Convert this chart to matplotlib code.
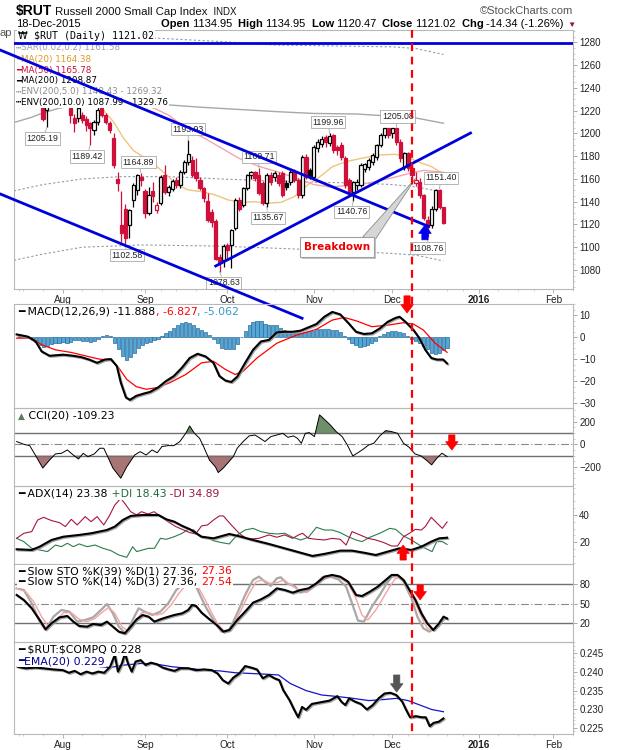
import numpy as np
import pandas as pd
import matplotlib
matplotlib.use("Agg")
import matplotlib.pyplot as plt
import matplotlib.patheffects as pe
from matplotlib.patches import Rectangle, Polygon
from matplotlib.lines import Line2D
from matplotlib.transforms import IdentityTransform, blended_transform_factory
from matplotlib.ticker import MultipleLocator

plt.rcParams['font.family'] = ['Liberation Sans', 'DejaVu Sans']
SANS = ['Liberation Sans', 'DejaVu Sans']
VERD = ['DejaVu Sans']
W, H = 620, 750
LEG = 7.8   # taille des légendes des panneaux

###############
#### data  ####
###############
# trading days, 0 = Mon 3 Aug 2015
day = np.arange(-11, 98)

opn = [1248, 1245, 1240, 1236, 1232, 1234, 1227, 1220.5, 1226, 1232,
       1235, 1231, 1229, 1222, 1213.2, 1213.2, 1216, 1213, 1208.8, 1203,
       1210.3, 1222, 1216, 1208.8, 1195.6, 1160, 1119.5, 1134, 1119.5, 1141.5,
       1150.3, 1162, 1149, 1130, 1149.4, 1132.7, 1138.5, 1163.4, 1148.8, 1151,
       1159, 1154.6, 1166.4, 1175, 1176.6, 1166.4, 1159, 1151.7, 1140.6, 1131,
       1123, 1091.7, 1088.8, 1102, 1102, 1116.6, 1141.5, 1137, 1152.3, 1163.4,
       1165.8, 1163.4, 1156, 1138.5, 1163.4, 1162, 1163.4, 1165, 1156, 1157.6,
       1166.4, 1159, 1145.9, 1179.5, 1168, 1162, 1187, 1191, 1197, 1191.2,
       1199, 1188, 1189.8, 1178, 1159, 1148.8, 1155, 1154.6, 1168.7, 1170.7,
       1175, 1179.5, 1189.8, 1198.6, 1204.4, 1200, 1204.4, 1192.7, 1170.7, 1182.5,
       1169.3, 1156, 1157.6, 1145.9, 1123.9, 1119.5, 1134, 1150.3, 1134.95]
high = [1252, 1250, 1244, 1240, 1236, 1238, 1230, 1227, 1234, 1238,
        1240, 1236, 1234, 1226, 1217, 1226, 1219, 1215, 1210, 1212,
        1223, 1225, 1218, 1211, 1200, 1166, 1149, 1138, 1134, 1156,
        1164, 1164.89, 1151, 1153, 1157, 1140, 1163, 1172, 1155, 1160,
        1162, 1168, 1177, 1193.93, 1180, 1178, 1162, 1153, 1148, 1134,
        1125, 1094, 1103, 1104, 1116, 1143, 1144, 1153, 1164, 1167,
        1167, 1169.71, 1158, 1165, 1166, 1167, 1166, 1167, 1159, 1168,
        1169, 1161, 1181, 1182, 1170, 1190, 1195, 1198, 1199, 1199.96,
        1199.5, 1190, 1192, 1180, 1161, 1158, 1160, 1174, 1174, 1178,
        1183, 1191, 1200, 1204.8, 1205, 1205, 1205.08, 1195, 1184, 1184,
        1172, 1166.4, 1161, 1147, 1127, 1136, 1150.8, 1151.4, 1134.95]
low = [1242, 1238, 1232, 1228, 1227, 1227, 1211, 1205.19, 1225, 1228,
       1229, 1227, 1226, 1209, 1201.5, 1210, 1209, 1202, 1189.42, 1199,
       1207, 1214, 1208, 1200, 1170, 1149, 1105, 1102.58, 1108, 1135,
       1146, 1154, 1125.4, 1128, 1140, 1130, 1137, 1147, 1145, 1149,
       1152, 1152, 1164, 1172, 1162, 1158, 1150, 1140, 1122, 1118,
       1089, 1078.63, 1083, 1090, 1081.5, 1115, 1132, 1135, 1150, 1160,
       1158, 1146, 1137, 1135.67, 1155, 1158, 1154, 1144, 1150, 1155,
       1157, 1143, 1143, 1160, 1160, 1160, 1184, 1188, 1188, 1189,
       1183, 1181, 1177, 1152, 1146, 1140.76, 1150, 1153, 1166, 1168,
       1172, 1177, 1188, 1196, 1196, 1196, 1190, 1175, 1168, 1167,
       1160, 1154, 1143, 1124, 1108.76, 1117, 1132, 1134, 1120.47]
close = [1245, 1240, 1236, 1232, 1229, 1230, 1213, 1225, 1232, 1235,
         1231, 1229, 1232, 1216, 1208.8, 1222, 1211.7, 1207, 1204.4, 1210.3,
         1220.5, 1216, 1210, 1203, 1172.2, 1156, 1112.2, 1108, 1132.7, 1154.6,
         1163.4, 1159, 1130, 1146, 1145.3, 1137, 1162, 1148.8, 1153, 1158,
         1154.6, 1166.4, 1175, 1181.6, 1163.4, 1160.5, 1151.7, 1143, 1123.9, 1122,
         1090, 1087.3, 1101.4, 1097.6, 1115, 1141.5, 1134, 1151.7, 1163.4, 1165.8,
         1160.5, 1147.3, 1138.5, 1163.4, 1157.6, 1164.9, 1156, 1145.9, 1153.2, 1166.4,
         1159, 1145.9, 1179.5, 1162, 1162, 1188, 1192.7, 1195, 1192, 1198,
         1185.4, 1185, 1179.5, 1154.6, 1148.8, 1157, 1157.5, 1172.2, 1173, 1176.6,
         1181, 1189.8, 1198.6, 1204.4, 1198.6, 1204.4, 1192.7, 1178, 1182.5, 1169.3,
         1163.4, 1159, 1145.9, 1125.4, 1118, 1134, 1150.3, 1135.36, 1121.02]

# price overlays (day, value)
ma200_d = [-12.4, -8, -5, -1, 4, 10, 18, 27, 35, 45, 55, 64, 75, 84, 90, 97]
ma200_v = [1209.5, 1214, 1218, 1222, 1225, 1227, 1227, 1225, 1223, 1221, 1219, 1217.5, 1217, 1215, 1213.5, 1208.9]
env5u_d = [12, 22, 46, 54, 84, 90, 97]
env5u_v = [1289, 1284, 1279.6, 1277.6, 1276, 1274.5, 1269.3]
env5l_d = [-12.4, -5, 5, 15, 27, 40, 55, 64, 75, 84, 90, 97]
env5l_v = [1149.5, 1155, 1160, 1162, 1162, 1160, 1158, 1157, 1156.5, 1155, 1153, 1148.4]
env10l_d = [-12.4, -5, 5, 20, 40, 55, 70, 84, 90, 97]
env10l_v = [1088.5, 1094, 1100, 1102, 1101, 1099, 1097, 1094.5, 1093, 1088]
ma20_d = [8, 10, 13, 15.5, 18, 20.5, 24, 27, 29, 32, 35.4, 38.8, 42.2, 45.5, 49,
          52, 55.6, 59, 62.4, 65, 68.7, 72, 76, 80.5, 84.7, 87, 90.6, 94, 97]
ma20_v = [1226, 1222, 1210, 1196, 1185, 1179.5, 1171, 1162, 1155, 1150.3, 1148.8, 1146, 1141.5, 1139.4, 1140,
          1138.6, 1139.4, 1144.4, 1154.7, 1160.5, 1170.7, 1175, 1178, 1181, 1181.6, 1180.4, 1175, 1170.7, 1164.4]
ma50_d = [18, 21, 24, 27, 32, 36, 40, 45, 50, 55, 60, 64, 68, 72, 76, 80, 84, 88, 92, 97]
ma50_v = [1229, 1225, 1221, 1216, 1203, 1196, 1188, 1178, 1171, 1166, 1160, 1155, 1153, 1154, 1155, 1158,
          1161, 1164.5, 1167.5, 1165.8]

# MACD
macd_d = [-11.7, -8.9, -6.9, -5.4, -3.4, 0.1, 2.6, 4.6, 6.6, 8.6, 10.6, 12.1, 13.6, 14.6, 15.9,
          16.9, 18.5, 20.5, 22, 24, 26, 28, 30, 32, 34, 36, 38, 39.5, 41, 42.5,
          44, 46, 48, 50, 52, 54, 56, 58, 60, 62, 64, 66, 68, 70, 72,
          74, 76, 78, 80, 82, 84, 85, 86.5, 88.5, 90, 91.5, 93, 94.4, 96, 97]
macd_v = [1.3, 0.3, -1.9, -6.4, -8.4, -7.9, -8.4, -9.0, -10.1, -11.6, -10.1, -9.9, -13.1, -20.6, -27.3,
          -28.4, -26.6, -25.5, -24.8, -22.8, -19.9, -17.6, -13.9, -9.4, -7.5, -8.7, -11.6, -17.6, -19.6, -20.3,
          -17.9, -11.6, -5.7, -1.9, -1.2, 2.2, 2.5, 2.5, 3.0, 4.5, 6.0, 9.3, 11.5, 10.4, 6.6,
          2.5, 1.5, 1.8, 4.0, 7.0, 8.8, 9.3, 7.0, 3.3, -0.4, -5.7, -9.4, -10.1, -10.1, -11.888]
sig_d = [-11.7, -7.9, -5.4, -1.9, 2.1, 5.6, 9.1, 12.1, 14.1, 16.1, 18.5, 21, 24, 27, 31, 35, 38,
         41, 43.5, 45.5, 49, 54, 59, 64, 68, 71, 74, 78, 82, 86, 88.5, 91, 94, 97]
sig_v = [-0.4, -0.4, -3.4, -5.7, -6.9, -8.4, -9.9, -10.4, -13.9, -19.1, -22.4, -23.6, -22.8, -20.6, -16.9,
         -11.6, -10.9, -14.6, -16.9, -15.4, -9.4, -2.7, 1.0, 3.6, 7.8, 9.0, 7.5, 4.8, 5.5, 6.6, 6.0,
         3.3, -2.7, -6.827]
hist = [1.2, 1.0, 0.5, -0.5, -2.0, -3.5, -4.2, -3.8, -3.0, -2.6,
        -2.4, -2.2, -2.4, -2.0, -1.4, -1.2, -1.8, -1.5, -2.0, -1.6,
        -0.8, 0.6, 1.0, 0.4, -2.5, -5.5, -8.5, -10.3, -9.0, -7.0,
        -5.0, -3.6, -2.8, -2.0, -1.4, -0.8, 0.6, 2.0, 3.0, 4.0,
        5.4, 6.5, 7.0, 6.6, 5.6, 4.2, 3.2, 2.4, 1.2, -0.6,
        -2.8, -4.8, -5.4, -5.5, -5.2, -3.2, 0.2, 3.0, 5.4, 7.0,
        7.6, 7.3, 6.0, 5.4, 5.4, 5.5, 4.2, 3.4, 3.0, 2.8,
        2.6, 2.0, 2.4, 3.0, 3.0, 3.6, 3.8, 3.8, 3.8, 3.4,
        3.2, 2.4, 0.6, -1.0, -2.4, -3.6, -4.2, -4.0, -3.4, -2.6,
        -1.6, 0.4, 1.6, 2.6, 3.0, 2.8, 2.6, 1.8, 0.4, -0.6,
        -1.6, -2.6, -3.8, -5.4, -7.0, -7.8, -7.2, -6.0, -5.062]

# CCI(20)
cci_d = [-11.7, -9.9, -8.4, -6.9, -5.1, -3.4, -1.9, -0.4, 1.1, 2.6, 3.9, 5.1, 6.3, 7.9, 9.3,
         10.3, 11.3, 12.6, 14.6, 16.1, 18.1, 19.5, 21.0, 22.5, 23.8, 25.0, 26.5, 28.0, 29.5, 31.0,
         32.0, 33.2, 34.5, 35.5, 37.0, 38.5, 39.2, 40.5, 41.5, 43.0, 44.0, 45.5, 47.0, 48.5, 49.8,
         51.0, 52.5, 54.0, 55.5, 56.8, 58.2, 59.2, 60.2, 61.2, 62.2, 63.5, 64.8, 66.0, 67.5, 69.0,
         70.5, 71.8, 73.2, 74.5, 75.8, 77.2, 78.5, 80.0, 81.5, 83.0, 84.5, 86.0, 87.4, 88.9, 90.4,
         91.9, 93.1, 94.4, 95.7, 97]
cci_v = [24, 0, -12, -100, -210, -140, -85, -80, -50, -95, -130, -80, -110, -85, -35,
         -35, -110, -210, -300, -200, -95, -65, -95, -50, -75, -20, -12, -12, 24, 97,
         162, 97, 53, -20, -140, -200, -250, -210, -170, -110, -35, 24, 74, 82, 53,
         24, 68, 82, 97, 62, 74, 53, 9, 97, 103, 68, 260, 221, 171, 112,
         68, -6, -103, -74, -44, -6, 9, 74, 121, 112, 97, 9, -26, -85, -103,
         -144, -182, -124, -79, -109.23]

# ADX(14)
adx_d = [-11.7, -7.9, -5.9, -2.9, 0.1, 4.1, 7.1, 11.1, 13.1, 15.1, 17.1, 20.1, 24.1, 26.1, 28.1,
         30.1, 32.1, 35, 38, 42, 45, 48, 52, 56, 60, 63, 66, 70, 73, 76, 79, 82, 85, 88, 90.5, 93, 95, 97]
adx_v = [14.9, 14.4, 16.8, 21.7, 24.1, 25.4, 26.6, 29, 31.5, 36.3, 39.3, 40, 40, 36.8, 35.1,
         32, 29.5, 24.1, 22.9, 26.1, 24.1, 21.7, 18.8, 15.6, 12.4, 10, 11.5, 13.9, 13.9, 12.4,
         10.7, 13.2, 15.6, 14.4, 16.8, 20.5, 22.9, 23.38]
mdi_d = [-11.7, -9.9, -7.9, -6.4, -4.9, -2.9, -0.9, 0.6, 2.1, 3.6, 5.6, 7.1, 8.6, 10.3, 11.6,
         13.1, 14.6, 15.9, 17.1, 18.6, 19.8, 21.5, 23, 24.5, 26.5, 28.5, 30.5, 32, 33.5, 35,
         36.5, 38, 39.5, 40.5, 42.5, 44.5, 46.5, 49.5, 52, 54, 56, 58, 59.5, 60.5, 62,
         64, 66, 68, 70, 71.5, 73, 75, 77, 79, 81, 83, 84.5, 86, 87.5, 89,
         90.5, 91.5, 93, 94.5, 95.8, 97]
mdi_v = [22.9, 26.6, 27.8, 36.3, 38.3, 35.9, 34.4, 31.5, 36.8, 32.7, 38.8, 35.1, 38.8, 32.7, 38.8,
         47.3, 52.2, 47.3, 42.4, 40, 42.4, 40.7, 42.4, 39.3, 35.1, 31.5, 29, 27.1, 26.1, 32,
         32.7, 36.3, 39.3, 39.3, 32.7, 26.6, 22.2, 22.9, 25.4, 23.7, 25.4, 22.9, 25.4, 26.6, 22.9,
         22.2, 21.7, 22.9, 22.2, 18, 27.8, 25.4, 22.9, 21.7, 19.8, 17.3, 17.3, 24.1, 26.6, 29.5,
         29, 31.5, 38.3, 33.9, 30.2, 34.89]
pdi_d = [-11.7, -9.9, -7.9, -5.9, -3.9, -1.9, -0.4, 1.1, 2.6, 4.1, 6.1, 8.1, 10.1, 12.1, 14.1,
         16.1, 17.6, 18.6, 20.1, 21.6, 23.1, 24.6, 26.1, 28.1, 30.1, 31.6, 33.1, 34.6, 36, 38,
         40, 42, 44, 46, 48, 50, 52, 54, 56, 58, 60, 62, 64, 66, 68,
         70, 72, 74, 75.5, 77.5, 80, 82.5, 84, 86, 88, 90, 92, 93.2, 94.4, 95.8, 97]
pdi_v = [22.9, 20.5, 15.6, 14.4, 13.2, 18, 16.8, 19.3, 16.8, 18.8, 16.8, 18, 15.6, 13.9, 10.7,
         9, 16.8, 13.2, 14.4, 15.6, 15.6, 22.9, 22.2, 24.1, 26.6, 29.5, 29, 24.1, 23.7, 21.2,
         19.8, 18.8, 25.4, 29, 30.2, 27.8, 26.6, 26.1, 26.6, 23.7, 21.7, 23.7, 31, 29, 29,
         27.1, 24.1, 21.7, 20.5, 23.7, 26.6, 30.2, 29.5, 24.6, 21.7, 18, 14.9, 13.2, 20.5, 20.5, 18.43]

# Slow stochastics
k39_d = [-11.7, -9.9, -7.9, -5.9, -4.4, -2.9, -0.9, 1.1, 2.6, 4.1, 6.1, 7.6, 9.6, 11.1, 12.6,
         14.1, 15.6, 17.1, 18.6, 20.1, 21.6, 23.1, 24.6, 26.1, 28.1, 30.1, 31.6, 32.6, 33.6, 35,
         37, 38.8, 40.5, 42, 44, 46, 48, 50, 52, 54, 56, 58, 60, 62, 64,
         66, 68, 70, 72, 74, 75.5, 77.5, 79.5, 81.5, 83, 84.5, 86, 87.5, 89, 90.5,
         92, 93.5, 95, 96.1, 97]
k39_v = [63.6, 55.9, 43.1, 25.1, 10.8, 20, 29.2, 31.3, 22.6, 15.9, 14.9, 19, 17.4, 22.6, 14.9,
         7.2, 4.6, 14.9, 26.2, 32.8, 30.3, 22.6, 26.2, 29.2, 32.8, 35.4, 40.5, 48.2, 46.7, 36.4,
         26.2, 17.4, 7.2, 9.7, 25.1, 38, 51.8, 56.9, 63.6, 73.8, 71.3, 67.2, 71.3, 73.8, 81.5,
         91.8, 94.4, 91.8, 84.1, 63.6, 62, 68.7, 76.4, 86.7, 94.4, 94.4, 86.7, 71.3, 55.9, 35.4,
         20, 9.7, 20, 30.3, 27.36]
k14_d = [-11.7, -9.9, -7.9, -5.9, -4.4, -2.4, -0.4, 1.6, 3.6, 5.6, 7.6, 9.6, 11.1, 12.6, 14.1,
         15.9, 17.6, 19.1, 20.6, 22.6, 24.6, 26.6, 28.6, 30.6, 32.1, 33.3, 34.6, 36, 38, 40,
         42, 44, 46, 48, 49.5, 51, 52.5, 54, 55, 56.5, 58.5, 60, 62, 64, 65.5,
         67.5, 69.5, 71.5, 73, 74.5, 76, 78, 80, 81.5, 83, 84.5, 86, 88, 89.5, 91,
         92.5, 94, 95.5, 97]
k14_v = [73.8, 71.3, 50.8, 22.6, 9.7, 30.3, 40.5, 38, 22.6, 25.1, 29.2, 40.5, 49.7, 35.4, 14.9,
         3.6, 25.1, 43.1, 38, 32.8, 38, 50.8, 71.3, 81.5, 84.1, 81.5, 63.6, 45.6, 25.1, 7.2,
         9.7, 35.4, 63.6, 86.7, 91.8, 84.1, 77.4, 89.2, 90.8, 81.5, 77.4, 67.2, 71.3, 81.5, 90.8,
         91.8, 87.7, 76.4, 50.8, 24.1, 22.6, 45.6, 63.6, 79, 91.8, 92.8, 84.1, 58.5, 30.3, 12.3,
         7.2, 12.3, 25.1, 27.36]
d3_d = [-11.7, -9.4, -7.4, -5.4, -3.7, -1.9, 0.1, 2.1, 4.1, 6.1, 8.1, 10.1, 11.6, 13.1, 14.9,
        16.6, 18.3, 19.9, 21.6, 23.6, 25.3, 27.3, 29.3, 31.1, 32.8, 34, 35.5, 37.2, 39, 40.8,
        42.8, 44.8, 46.8, 48.8, 50.5, 52.2, 54, 55.8, 57.5, 59.5, 61.5, 63.5, 65.5, 68, 70,
        72, 73.8, 75.5, 77, 79, 80.8, 82.5, 84, 85.5, 87, 88.8, 90.5, 92, 93.5, 95, 96, 97]
d3_v = [73.8, 68.7, 53.3, 30.3, 14.9, 22.6, 36.4, 36.4, 26.2, 22.6, 27.7, 38, 44.6, 35.4, 14.9,
        7.2, 22.6, 36.4, 36.4, 32.8, 35.4, 48.2, 66.2, 79, 82.6, 77.4, 61, 40.5, 20, 7.2,
        14.9, 38, 63.6, 84.1, 86.7, 81.5, 82.6, 86.7, 79, 71.3, 67.2, 76.4, 86.7, 91.8, 89.2,
        81.5, 61, 32.8, 25.1, 40.5, 58.5, 76.4, 89.2, 89.2, 76.4, 53.3, 30.3, 12.3, 8.7, 14.9, 24, 27.54]

# $RUT:$COMPQ ratio
rc_d = [-11.4, -9.4, -6.9, -4.9, -2.4, 0.1, 1.6, 3.1, 4.6, 6.1, 7.6, 9.1, 10.6, 12.1, 13.3,
        14.1, 15.1, 15.9, 16.6, 17.6, 18.6, 19.9, 21.1, 22.5, 24.0, 25.5, 27.0, 28.5, 30.0, 32.0,
        34.0, 36.0, 38.0, 39.5, 40.8, 42.2, 43.5, 45.0, 46.5, 48.0, 49.5, 51.0, 52.5, 54.0, 55.2,
        56.2, 57.8, 59.0, 60.0, 61.0, 62.0, 63.5, 65.0, 66.5, 68.0, 69.0, 70.0, 71.0, 72.0, 73.0,
        74.5, 76.0, 77.5, 79.0, 80.5, 82.0, 83.5, 85.0, 86.5, 87.5, 88.5, 90.0, 91.5, 92.5, 93.5,
        94.5, 95.8, 97]
rc_v = [0.2414, 0.2410, 0.2412, 0.2410, 0.2407, 0.2405, 0.2398, 0.2403, 0.2394, 0.2401,
        0.2396, 0.2401, 0.2398, 0.2414, 0.2446, 0.2401, 0.2423, 0.2450, 0.2425, 0.2401,
        0.2428, 0.2432, 0.2419, 0.2425, 0.2421, 0.2412, 0.2407, 0.2403, 0.2410, 0.2410,
        0.2405, 0.2407, 0.2405, 0.2396, 0.2378, 0.2369, 0.2385, 0.2396, 0.2416, 0.2412,
        0.2407, 0.2383, 0.2392, 0.2383, 0.2378, 0.2351, 0.2324, 0.2298, 0.2278, 0.2306,
        0.2298, 0.2314, 0.2317, 0.2320, 0.2323, 0.2329, 0.2335, 0.2320, 0.2311, 0.2329,
        0.2320, 0.2314, 0.2299, 0.2311, 0.2329, 0.2342, 0.2344, 0.2338, 0.2320, 0.2298,
        0.2278, 0.2281, 0.2278, 0.2278, 0.2254, 0.2263, 0.2266, 0.2275]
ema_d = [8.1, 12, 16, 20, 24, 28, 32, 36, 40, 44, 48, 52, 55, 58, 62, 66, 70, 74, 78, 82, 85, 88, 91, 94, 97]
ema_v = [0.2416, 0.2412, 0.2419, 0.2423, 0.2421, 0.2414, 0.2410, 0.2405, 0.2403, 0.2398,
         0.2396, 0.2394, 0.2392, 0.2369, 0.2350, 0.2338, 0.2334, 0.2329, 0.2323, 0.2326,
         0.2329, 0.2323, 0.2311, 0.2299, 0.2293]

# boxed price labels: (day, 'H' or 'L', x shift px)
price_tags = [(-4, 'L', -3), (7, 'L', -2), (16, 'L', 1), (20, 'H', -2), (32, 'H', 0), (40, 'L', 3),
              (50, 'H', 0), (52, 'L', 1), (68, 'H', -1), (74, 'L', -1), (85, 'H', 1), (93, 'L', 0),
              (96, 'H', 1)]

##################
#### fonctions ###
##################
fig = plt.figure(figsize=(W / 100, H / 100), dpi=100)
fig.patch.set_facecolor('white')
R = fig.canvas.get_renderer()


def panel(top, bot):
    a = fig.add_axes([14 / W, 1 - bot / H, 559 / W, (bot - top) / H])
    a.set_facecolor('none')
    for s in a.spines.values():
        s.set_color('#b8b8b8')
        s.set_linewidth(0.8)
    a.set_xlim(-12.37, 128.8)
    a.yaxis.tick_right()
    a.tick_params(axis='y', which='major', direction='out', length=3, width=0.6, color='#999999',
                  pad=1.5, labelsize=7, labelcolor='#222222')
    a.tick_params(axis='y', which='minor', direction='out', length=1.5, width=0.5, color='#bbbbbb')
    a.tick_params(axis='x', which='both', length=0, labelbottom=False)
    return a


def seq(x, y, parts, target=None, va='baseline', bg=None, z=5):
    # texte multicolore posé en pixels de la figure (origine en haut à gauche)
    for s, col, props in parts:
        kw = dict(va=va, ha='left', transform=IdentityTransform(), zorder=z + 0.1)
        kw.update(props)
        host = target or fig
        if bg:
            # fond blanc d'abord, texte ensuite, pour ne pas masquer le morceau précédent
            host.text(x, H - y, s, color=bg, zorder=z,
                      bbox=dict(boxstyle='square,pad=0.12', fc=bg, ec='none'),
                      **{k: v for k, v in kw.items() if k != 'zorder'})
        t = host.text(x, H - y, s, color=col, **kw)
        x = t.get_window_extent(R).x1
    return x


def arrow(a, x, y0, y1, col, size=10):
    a.annotate('', xy=(x, y1), xytext=(x, y0), zorder=8,
               arrowprops=dict(arrowstyle='simple,head_length=0.6,head_width=0.9,tail_width=0.45',
                               fc=col, ec=col, lw=0.5, shrinkA=0, shrinkB=0, mutation_scale=size))


def L(txt, col):
    return (txt, col, dict(fontsize=LEG, family=VERD))


shadow = [pe.SimpleLineShadow(offset=(0.8, -0.8), shadow_color='#9a9a9a', alpha=0.9), pe.Normal()]

##############
#### CODE ####
##############
ax = panel(30, 289)
axm = panel(304, 408)
axc = panel(408, 486)
axa = panel(486, 564.3)
axs = panel(564.3, 642.3)
axr = panel(642.3, 734)

# ---- price panel ----
ax.set_ylim(1063.3, 1290.8)
ax.set_yticks(np.arange(1080, 1281, 20))
ax.yaxis.set_minor_locator(MultipleLocator(5))

ax.plot(ma200_d, ma200_v, color='#a8a8a8', lw=1.0, zorder=1)
for xd, yv in [(env5u_d, env5u_v), (env5l_d, env5l_v), (env10l_d, env10l_v)]:
    ax.plot(xd, yv, color='#8e9ca8', lw=0.8, ls=(0, (2, 2)), zorder=1)
ax.plot(ma20_d, ma20_v, color='#f0c47c', lw=1.0, zorder=1)
ax.plot(ma50_d, ma50_v, color='#f3a6ae', lw=1.0, zorder=1)

RED = '#d0103a'
prev = None
for d, o, h, l, c in zip(day, opn, high, low, close):
    ref = o if prev is None else prev
    col = 'black' if c >= ref else RED
    lo_b, hi_b = min(o, c), max(o, c)
    ax.vlines(d, l, lo_b, color=col, lw=0.9, zorder=2)
    ax.vlines(d, hi_b, h, color=col, lw=0.9, zorder=2)
    filled = c < o
    ax.add_patch(Rectangle((d - 0.4, lo_b), 0.8, max(hi_b - lo_b, 0.4),
                           fc=col if filled else 'white', ec=col, lw=0.9, zorder=2))
    prev = c

for d, kind, dx in price_tags:
    i = int(d - day[0])
    val = high[i] if kind == 'H' else low[i]
    dy = 8 if kind == 'H' else -8
    ax.annotate(f'{val:.2f}', xy=(d, val), xytext=(dx, dy), textcoords='offset points',
                ha='center', va='center', fontsize=6.3, color='#222222', zorder=4,
                bbox=dict(boxstyle='square,pad=0.18', fc='white', ec='#aaaaaa', lw=0.6),
                arrowprops=dict(arrowstyle='-', color='#aaaaaa', lw=0.6, shrinkA=0, shrinkB=0))

# légende du graphe des prix
seq(18, 36, [('₩', 'black', dict(fontsize=7, family=VERD)),
             (' $RUT (Daily) 1121.02', 'black', dict(fontsize=7.2, family=['DejaVu Sans Mono']))],
    target=ax, va='center', bg='white')
rows = [(47.7, '┅', '#a0a0a0', 'SAR(0.02,0.2) 1161.58', '#a0a0a0'),
        (59.3, '━', '#e6a23c', 'MA(20) 1164.38', '#dd9a25'),
        (70.0, '━', RED, 'MA(50) 1165.78', RED),
        (80.7, '━', 'black', 'MA(200) 1208.87', 'black'),
        (91.5, '┅', '#8c9aa6', 'ENV(200,5.0) 1148.43 - 1269.32', '#8c8c8c'),
        (102.3, '┅', 'black', 'ENV(200,10.0) 1087.99 - 1329.76', 'black')]
for y, mk, mc, txt, tc in rows:
    seq(16, y, [(mk, mc, dict(fontsize=6.3, family=VERD)), (txt, tc, dict(fontsize=6.3, family=VERD))],
        target=ax, va='center', bg='white')

# lignes de tendance
BLUE = '#0000dd'
ax.axhline(1279, color=BLUE, lw=2, zorder=6)
ax.plot([-16.6, 93.2], [1274.2, 1118.3], color=BLUE, lw=2, zorder=6, clip_on=False)
ax.plot([-16.6, 61], [1147.8, 1037.6], color=BLUE, lw=2, zorder=6, clip_on=False)
ax.plot([39, 103.9], [1083.5, 1200.3], color=BLUE, lw=2, zorder=6, clip_on=False)

# encadré Breakdown
ax.add_patch(Polygon([(76.5, 1109.3), (79.4, 1105.5), (89.9, 1160.5)], closed=True,
                     fc='#d6d6d6', ec='#8c8c8c', lw=0.6, zorder=6.5))
ax.add_patch(Rectangle((61.0, 1089.9), 18.9, 17.6, fc='#c4c4c4', ec='none', zorder=6.6))
ax.add_patch(Rectangle((60.5, 1091.7), 18.9, 17.6, fc='white', ec='#a0a0a0', lw=0.8, zorder=6.7))
ax.text(69.95, 1100.5, 'Breakdown', color='#ee0000', fontsize=7.5, fontweight='bold',
        family=VERD, ha='center', va='center', zorder=6.8)
arrow(ax, 92.3, 1106.5, 1119.5, '#0000ee', size=10)

# ---- MACD ----
axm.set_ylim(-32.1, 15.1)
axm.set_yticks([10, 0, -10, -20, -30])
axm.yaxis.set_minor_locator(MultipleLocator(2.5))
axm.bar(day, hist, width=0.8, color='#55a6d6', edgecolor='#2a6d9c', lw=0.5, zorder=1)
axm.plot(sig_d, sig_v, color='#ff0000', lw=0.9, zorder=2)
axm.plot(macd_d, macd_v, color='black', lw=1.5, zorder=3, path_effects=shadow)
seq(18, 311.7, [L('━', 'black'), L(' MACD(12,26,9) -11.888', 'black'),
                L(', -6.827', '#ff0000'), L(', -5.062', '#3399cc')],
    target=axm, va='center', bg='white')
arrow(axm, 86.9, 18.8, 11, '#ff0000')

# ---- CCI ----
axc.set_ylim(-369, 321)
axc.set_yticks([200, 0, -200])
axc.yaxis.set_minor_locator(MultipleLocator(50))
cv = np.array(cci_v)
axc.fill_between(cci_d, cv, 100, where=cv > 100, interpolate=True, color='#6d8f6a', lw=0, zorder=1)
axc.fill_between(cci_d, cv, -100, where=cv < -100, interpolate=True, color='#a87474', lw=0, zorder=1)
axc.axhline(100, color='#707070', lw=1, zorder=1.5)
axc.axhline(-100, color='#707070', lw=1, zorder=1.5)
axc.axhline(0, color='#8a8a8a', lw=0.8, ls=(0, (7, 2, 1, 2)), zorder=1.5)
axc.plot(cci_d, cci_v, color='black', lw=0.7, zorder=2)
seq(18, 416, [('▲', '#5d7d5a', dict(fontsize=6.5, family=VERD)), L(' CCI(20) -109.23', 'black')],
    target=axc, va='center', bg='white')
arrow(axc, 98.2, 83, -51, '#ff0000')

# ---- ADX ----
axa.set_ylim(3.9, 61.2)
axa.set_yticks([40, 20])
axa.yaxis.set_minor_locator(MultipleLocator(5))
axa.plot(pdi_d, pdi_v, color='#2f7a4c', lw=0.8, zorder=2)
axa.plot(mdi_d, mdi_v, color='#a8153f', lw=0.8, zorder=2)
axa.plot(adx_d, adx_v, color='black', lw=1.5, zorder=3, path_effects=shadow)
seq(18, 494, [L('━', 'black'), L(' ADX(14) 23.38', 'black'),
              L(' +DI 18.43', '#1d6b3c'), L(' -DI 34.89', '#9b1b40')],
    target=axa, va='center', bg='white')
arrow(axa, 85.9, 7, 18, '#ff0000')

# ---- Slow STO ----
axs.set_ylim(-9.2, 110.8)
axs.set_yticks([80, 50, 20])
axs.axhline(80, color='#707070', lw=1, zorder=1)
axs.axhline(20, color='#707070', lw=1, zorder=1)
axs.axhline(50, color='#8a8a8a', lw=0.8, ls=(0, (7, 2, 1, 2)), zorder=1)
axs.plot(k14_d, k14_v, color='#a8a8a8', lw=1.6, zorder=2)
axs.plot(d3_d, d3_v, color='#f5a3a3', lw=1.0, zorder=2.5)
axs.plot(k39_d, k39_v, color='black', lw=1.5, zorder=3, path_effects=shadow)
seq(18, 571.5, [L('━', 'black'), L(' Slow STO %K(39) %D(1) 27.36, ', 'black'), L('27.36', '#ff0000')],
    target=axs, va='center', bg='white')
seq(18, 582, [L('━', 'black'), L(' Slow STO %K(14) %D(3) 27.36, ', 'black'), L('27.54', '#ff0000')],
    target=axs, va='center', bg='white')
arrow(axs, 90.2, 79, 56, '#ff0000')

# ---- $RUT:$COMPQ ----
axr.set_ylim(0.2233, 0.2480)
axr.set_yticks([0.245, 0.240, 0.235, 0.230, 0.225])
axr.set_yticklabels(['0.245', '0.240', '0.235', '0.230', '0.225'])
axr.yaxis.set_minor_locator(MultipleLocator(0.001))
axr.plot(ema_d, ema_v, color='#1515c8', lw=0.9, zorder=2)
axr.plot(rc_d, rc_v, color='black', lw=1.5, zorder=3, path_effects=shadow)
seq(18, 650, [L('━', 'black'), L(r' \$RUT:\$COMPQ 0.228', 'black')],
    target=axr, va='center', bg='white')
seq(18, 661, [L('━', '#00008b'), L('EMA(20) 0.229', '#00008b')],
    target=axr, va='center', bg='white')
arrow(axr, 85.1, 0.2392, 0.2346, '#555555')

# ---- axe des dates ----
holidays = pd.to_datetime(['2015-09-07', '2015-11-26', '2015-12-25', '2016-01-01', '2016-01-18'])
dates = pd.bdate_range('2015-07-17', '2016-02-12')
dates = dates[~dates.isin(holidays)]
dnum = pd.Series(np.arange(len(dates)) - list(dates).index(pd.Timestamp('2015-08-03')), index=dates)
firsts = dnum.groupby([dates.year, dates.month]).first()
mpos, mlab = [], []
for (yy, mm), pos in firsts.items():
    if (yy, mm) >= (2015, 8):
        mpos.append(pos)
        mlab.append('2016' if mm == 1 else pd.Timestamp(yy, mm, 1).strftime('%b'))
weeks = dnum.groupby(dates.to_period('W')).first().values

for a in (ax, axr):
    a.set_xticks(mpos)
    a.set_xticklabels(mlab)
    a.set_xticks(weeks, minor=True)
    a.tick_params(axis='x', which='major', length=3, width=0.6, color='#aaaaaa', pad=1.5,
                  labelsize=7.2, labelbottom=True, labelcolor='#222222')
    a.tick_params(axis='x', which='minor', length=1.5, width=0.5, color='#bbbbbb')
    for t in a.get_xticklabels():
        if t.get_text() == '2016':
            t.set_fontweight('bold')

# ligne verticale rouge sur tous les panneaux
tr = blended_transform_factory(ax.transData, fig.transFigure)
fig.add_artist(Line2D([89, 89], [1 - 30 / H, 1 - 734 / H], transform=tr, color='#ff0000',
                      lw=1.6, ls=(0, (3.5, 2.5)), zorder=10))

# ---- en-tête ----
seq(16, 15, [('$RUT', 'black', dict(fontsize=10, fontweight='bold')),
             (' Russell 2000 Small Cap Index', '#111111', dict(fontsize=8.2)),
             ('  INDX', '#111111', dict(fontsize=7))])
fig.text(573, H - 14, '©StockCharts.com', color='#555555', fontsize=8, ha='right', va='baseline',
         transform=IdentityTransform())
seq(16, 27, [('18-Dec-2015', 'black', dict(fontsize=8))])
B = dict(fontsize=8, fontweight='bold')
N = dict(fontsize=8)
seq(161, 27, [('Open ', 'black', B), ('1134.95  ', 'black', N), ('High ', 'black', B),
              ('1134.95  ', 'black', N), ('Low ', 'black', B), ('1120.47  ', 'black', N),
              ('Close ', 'black', B), ('1121.02  ', 'black', N), ('Chg ', 'black', B),
              ('-14.34 (-1.26%) ', 'black', N), ('▼', '#8b1a3a', dict(fontsize=6))])
fig.text(-1, H - 33, 'ap', color='#555555', fontsize=8, va='center', transform=IdentityTransform())

fig.savefig('out.png', dpi=100)
